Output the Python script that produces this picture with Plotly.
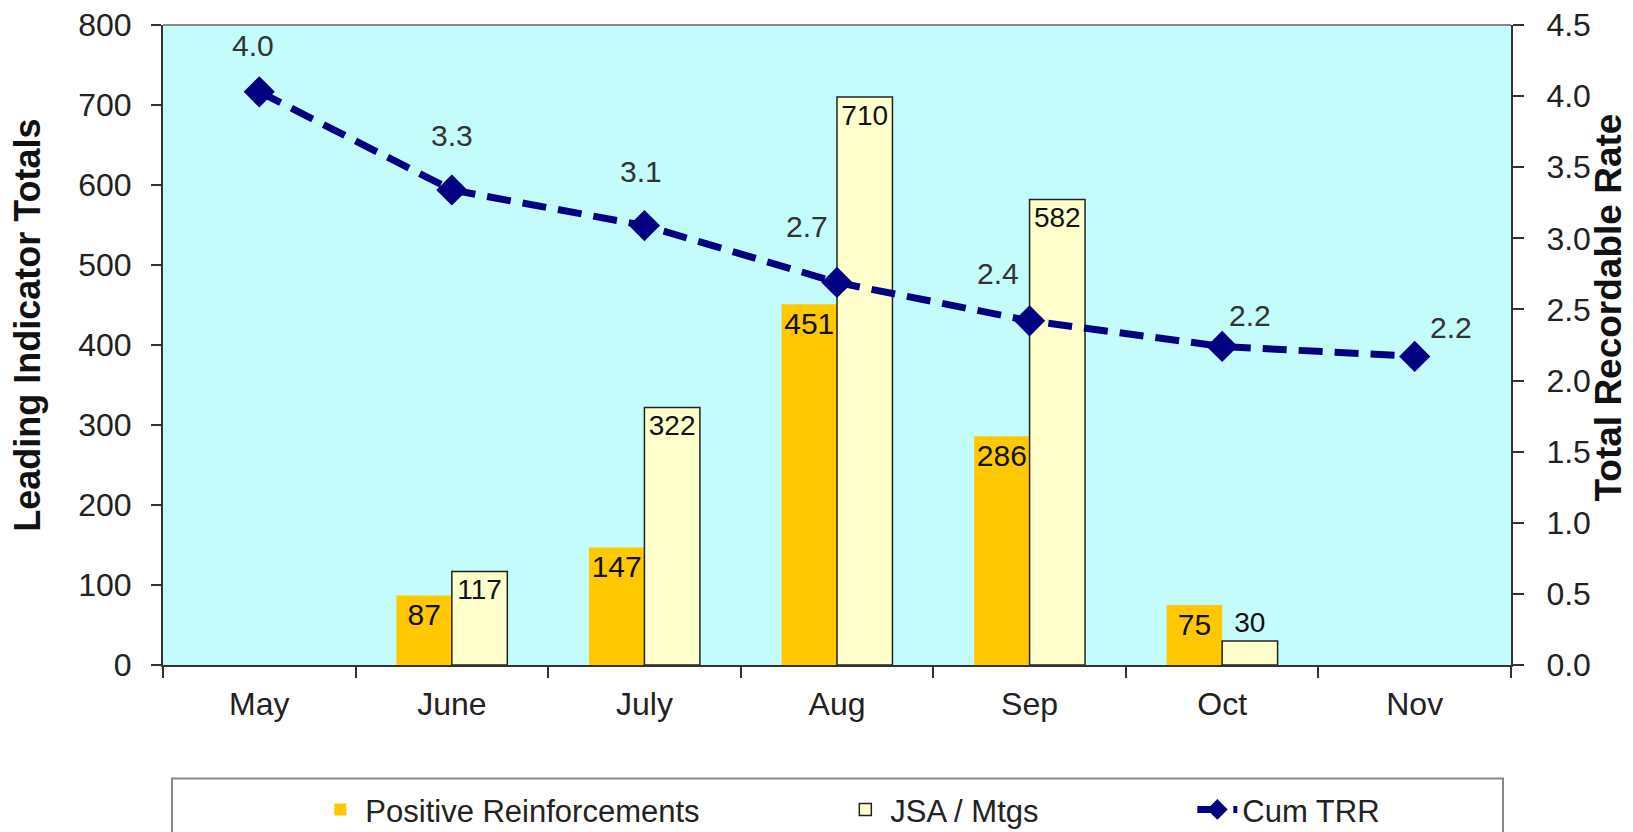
import plotly.graph_objects as go
from plotly.subplots import make_subplots

months = ["May", "June", "July", "Aug", "Sep", "Oct", "Nov"]
positive_reinforcements = [None, 87, 147, 451, 286, 75, None]
jsa_mtgs = [None, 117, 322, 710, 582, 30, None]
cum_trr = [4.03, 3.34, 3.09, 2.69, 2.42, 2.24, 2.17]

# label offsets (px) for line labels: style only
lbl_dx = [-6, 0, -3, -30, -32, 28, 36]
lbl_dy = [46, 54, 54, 56, 47, 31, 29]

FONT = "Liberation Sans, Arial, sans-serif"

fig = make_subplots(specs=[[{"secondary_y": True}]])

fig.add_trace(go.Bar(
    x=months, y=positive_reinforcements, name="Positive Reinforcements",
    marker=dict(color="#FFC800", line=dict(width=0)),
    text=[("" if v is None else str(v)) for v in positive_reinforcements],
    textposition="inside", insidetextanchor="end", textangle=0,
    constraintext="none",
    textfont=dict(family=FONT, size=30, color="#111111"),
    legendwidth=470,
), secondary_y=False)

fig.add_trace(go.Bar(
    x=months, y=jsa_mtgs, name="JSA / Mtgs",
    marker=dict(color="#FFFFCC", line=dict(width=1.5, color="#222222")),
    text=[("" if v is None else str(v)) for v in jsa_mtgs],
    textposition=["inside", "inside", "inside", "inside", "inside", "outside", "inside"],
    insidetextanchor="end", textangle=0, constraintext="none", cliponaxis=False,
    textfont=dict(family=FONT, size=28, color="#111111"),
    legendwidth=297,
), secondary_y=False)

fig.add_trace(go.Scatter(
    x=months, y=cum_trr, name="Cum TRR", mode="lines+markers",
    line=dict(color="#000080", width=7, dash="24px,12px"),
    marker=dict(symbol="diamond", size=24, color="#000080"),
), secondary_y=True)

for m, v, dx, dy in zip(months, cum_trr, lbl_dx, lbl_dy):
    fig.add_annotation(x=m, y=v, xref="x", yref="y2", text=f"{v:.1f}",
                       showarrow=False, xshift=dx, yshift=dy,
                       font=dict(family=FONT, size=30, color="#333333"))

# axis titles
fig.add_annotation(text="<b>Leading Indicator Totals</b>", xref="paper", yref="paper",
                   x=(28 - 163) / 1348, y=(657 - 322) / 632, textangle=-90,
                   showarrow=False, xanchor="center", yanchor="middle",
                   font=dict(family=FONT, size=36, color="#111111"))
fig.add_annotation(text="<b>Total Recordable Rate</b>", xref="paper", yref="paper",
                   x=(1609 - 163) / 1348, y=(657 - 304) / 632, textangle=-90,
                   showarrow=False, xanchor="center", yanchor="middle",
                   font=dict(family=FONT, size=37, color="#111111"))

# top border and legend box
fig.add_shape(type="line", xref="paper", yref="paper", x0=0, x1=1, y0=1, y1=1,
              line=dict(color="#888888", width=2))
fig.add_shape(type="rect", xref="paper", yref="paper",
              x0=(172 - 163) / 1348, x1=(1503 - 163) / 1348,
              y0=-0.4, y1=-(769 - 657) / 632,
              line=dict(color="#888888", width=2), fillcolor="rgba(0,0,0,0)")

# the page body adds an 8px offset; the figure is sized to fill the rest of the window
fig.update_layout(
    width=1625, height=824,
    margin=dict(l=155, r=122, t=17, b=167, autoexpand=False),
    paper_bgcolor="white", plot_bgcolor="#C4FBFB",
    barmode="group", bargap=0.424, bargroupgap=0,
    font=dict(family=FONT, size=30, color="#222222"),
    showlegend=True,
    legend=dict(orientation="h", x=0.113, xanchor="left",
                y=-(800 - 657) / 632, yanchor="middle",
                font=dict(family=FONT, size=31, color="#222222"),
                bgcolor="rgba(0,0,0,0)", borderwidth=0, itemwidth=40,
                traceorder="normal"),
)

fig.update_xaxes(
    type="category", domain=[0, 1], showgrid=False, showline=True,
    linecolor="#333333", linewidth=2,
    ticks="outside", tickson="boundaries", ticklen=11, tickwidth=2, tickcolor="#333333",
    tickfont=dict(family=FONT, size=32, color="#222222"), ticklabelstandoff=10,
    automargin=False,
)
fig.update_yaxes(
    range=[0, 800], dtick=100, showgrid=False, zeroline=False,
    showline=True, linecolor="#333333", linewidth=2,
    ticks="outside", ticklen=10, tickwidth=2, tickcolor="#333333",
    tickfont=dict(family=FONT, size=32, color="#222222"), ticklabelstandoff=13,
    ticklabeloverflow="allow", automargin=False,
    secondary_y=False,
)
fig.update_yaxes(
    range=[0, 4.5], dtick=0.5, tickformat=".1f", showgrid=False, zeroline=False,
    showline=True, linecolor="#333333", linewidth=2,
    ticks="outside", ticklen=11, tickwidth=2, tickcolor="#333333",
    tickfont=dict(family=FONT, size=32, color="#222222"), ticklabelstandoff=16,
    ticklabeloverflow="allow", automargin=False,
    secondary_y=True,
)

fig.write_html("out.html")
